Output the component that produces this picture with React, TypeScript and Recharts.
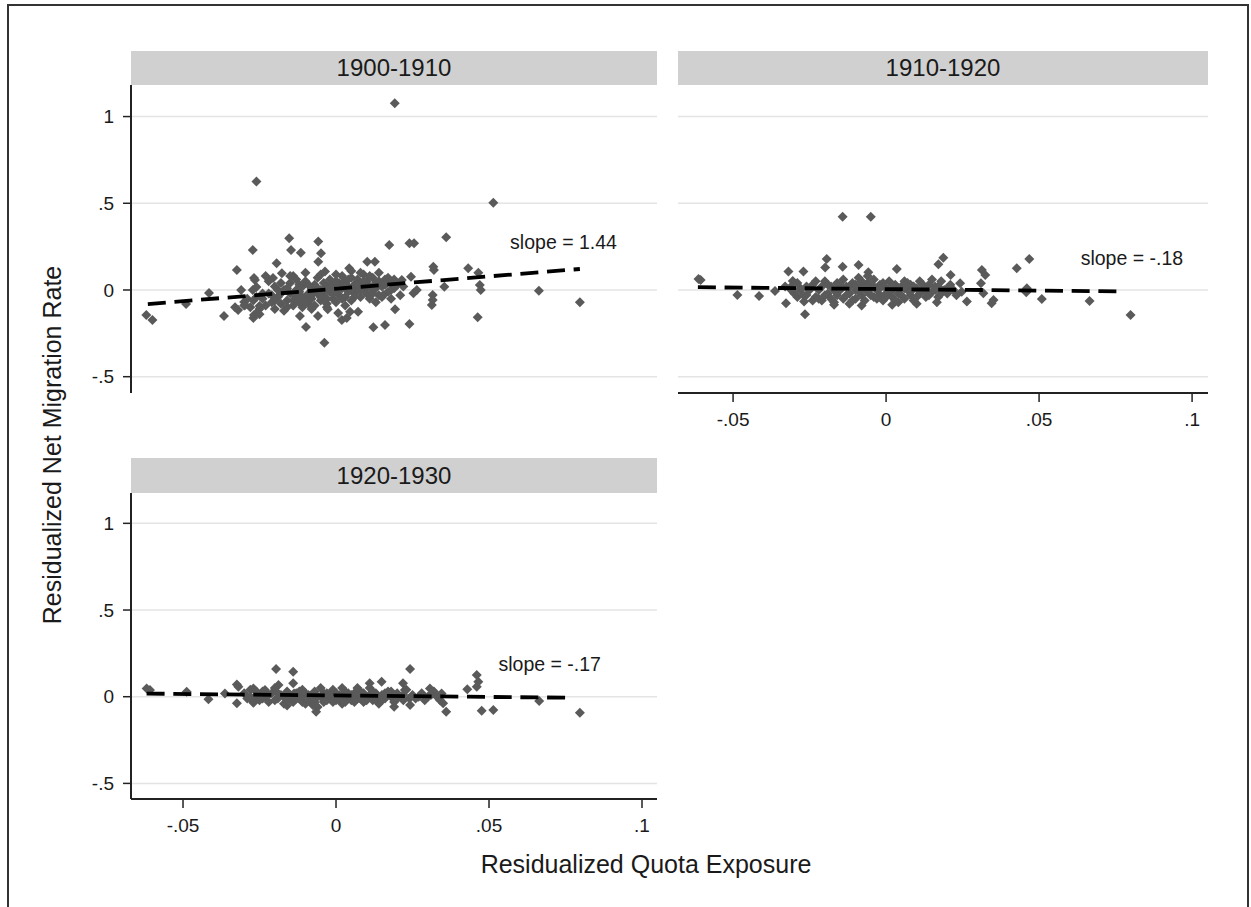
import React from 'react';
import { ScatterChart, Scatter, XAxis, YAxis, ReferenceLine } from 'recharts';

const FONT = '"Liberation Sans", Arial, Helvetica, sans-serif';

// panel titles
const decades = ['1900-1910', '1910-1920', '1920-1930'];
const slopeLabels = ['slope = 1.44', 'slope = -.18', 'slope = -.17'];

// tick labels
const xTicks = [-0.05, 0, 0.05, 0.1];
const yTicks = [-0.5, 0, 0.5, 1];

// 1900-1910: [quota exposure, net migration]
const pts1900: [number, number][] = [
  [-0.062, -0.144], [-0.06, -0.173], [-0.049, -0.081], [-0.0415, -0.017], [-0.0366, -0.15],
  [-0.0324, 0.115], [-0.032, -0.115], [-0.031, 0.0], [-0.03, -0.069], [-0.0297, -0.087], [-0.033, -0.1],
  [-0.0272, 0.231], [-0.0268, 0.069], [-0.026, 0.017], [-0.0268, -0.144], [-0.026, 0.625], [-0.027, -0.161],
  [-0.026, -0.133], [-0.0265, 0.058], [-0.025, -0.092], [-0.0272, 0.0],
  [-0.0206, 0.069], [-0.0194, 0.154], [-0.0177, 0.096], [-0.0153, 0.298], [-0.0147, 0.231], [-0.014, 0.081],
  [-0.0115, 0.215], [-0.0118, -0.15], [-0.0098, -0.213],
  [-0.0058, 0.279], [-0.0049, 0.212], [-0.0058, 0.163], [-0.0059, -0.15], [-0.0036, 0.106], [-0.0038, -0.304],
  [-0.0027, -0.111], [0.0007, -0.133], [0.0019, -0.173], [0.0035, -0.161], [0.0043, 0.125], [0.0046, -0.125],
  [0.0072, -0.125], [0.0102, 0.163], [0.0127, 0.163], [0.0122, -0.215], [0.0155, -0.029], [0.016, -0.202],
  [0.0174, 0.26], [0.0192, 1.077], [0.0193, -0.111],
  [0.0215, 0.058], [0.024, 0.269], [0.0255, 0.269], [0.024, -0.196], [0.0245, 0.077], [0.0253, -0.019], [0.0264, 0.0],
  [0.0318, 0.134], [0.032, 0.115], [0.0316, -0.029], [0.0316, -0.058], [0.0313, -0.087], [0.0354, 0.019], [0.036, 0.304],
  [0.0432, 0.125], [0.0465, 0.1], [0.047, 0.029], [0.0473, 0.0], [0.0463, -0.157], [0.0514, 0.503],
  [0.0663, -0.004], [0.0797, -0.071],
  // dense centre
  [-0.024, -0.05], [-0.023, -0.09], [-0.022, -0.02], [-0.021, -0.07], [-0.02, -0.11], [-0.02, 0.02],
  [-0.019, -0.04], [-0.018, -0.08], [-0.017, 0.0], [-0.017, -0.12], [-0.016, -0.06], [-0.015, -0.02],
  [-0.015, 0.04], [-0.014, -0.09], [-0.013, -0.04], [-0.013, 0.06], [-0.012, -0.01], [-0.012, -0.07],
  [-0.011, 0.02], [-0.011, -0.1], [-0.01, -0.04], [-0.01, 0.05], [-0.009, -0.02], [-0.009, -0.08],
  [-0.008, 0.01], [-0.008, -0.05], [-0.007, 0.03], [-0.007, -0.09], [-0.006, -0.02], [-0.006, 0.07],
  [-0.005, -0.06], [-0.005, 0.0], [-0.004, 0.04], [-0.004, -0.03], [-0.003, -0.08], [-0.003, 0.02],
  [-0.002, -0.01], [-0.002, 0.06], [-0.001, -0.05], [-0.001, 0.03], [0.0, 0.0], [0.0, -0.07],
  [0.001, 0.04], [0.001, -0.03], [0.002, 0.08], [0.002, 0.01], [0.003, -0.04], [0.003, 0.05],
  [0.004, -0.01], [0.004, 0.02], [0.005, -0.06], [0.005, 0.07], [0.006, 0.03], [0.006, -0.02],
  [0.007, 0.0], [0.007, 0.06], [0.008, -0.04], [0.008, 0.03], [0.009, 0.09], [0.009, 0.01],
  [0.01, -0.02], [0.01, 0.05], [0.011, 0.02], [0.011, -0.05], [0.012, 0.07], [0.012, 0.0],
  [0.013, 0.04], [0.014, -0.03], [0.014, 0.1], [0.015, 0.02], [0.016, 0.06], [0.017, -0.01],
  [0.018, 0.04], [0.019, 0.01], [-0.028, -0.1], [-0.029, -0.05], [-0.025, -0.14], [-0.03, -0.09], [-0.027, -0.06],
  [-0.022, 0.05], [-0.021, -0.03], [-0.019, 0.0], [-0.018, -0.02], [-0.016, -0.1], [-0.016, 0.01],
  [-0.014, -0.06], [-0.013, 0.0], [-0.012, 0.03], [-0.011, -0.04], [-0.01, -0.07], [-0.009, 0.03],
  [-0.008, -0.03], [-0.007, -0.01], [-0.006, 0.01], [-0.005, -0.04], [-0.004, 0.0], [-0.003, -0.05],
  [-0.002, 0.02], [-0.001, -0.02], [0.0, 0.05], [0.001, 0.0], [0.002, -0.05], [0.003, 0.02],
  [0.004, 0.06], [0.005, 0.0], [0.006, -0.04], [0.007, 0.03], [0.008, 0.0], [0.009, 0.05],
  [0.01, 0.02], [0.011, 0.08], [0.012, -0.02], [0.013, 0.01], [0.014, 0.05], [0.015, -0.04],
  [0.016, 0.03], [0.017, 0.07], [0.018, 0.0], [0.019, 0.06], [0.02, 0.03], [0.021, -0.03],
  [0.022, 0.02], [-0.024, -0.02], [-0.023, 0.08], [-0.02, -0.06], [-0.015, 0.08], [-0.01, 0.1],
  [-0.005, 0.09], [0.0, 0.09], [0.005, 0.11], [0.008, 0.1], [0.003, -0.09], [-0.008, -0.11],
  [-0.003, -0.1], [0.013, -0.07], [0.018, -0.05], [-0.018, 0.04], [-0.026, -0.04], [-0.025, -0.11],
];

// 1910-1920
const pts1910: [number, number][] = [
  [-0.0142, 0.423], [-0.005, 0.423],
  [-0.0613, 0.063], [-0.0606, 0.058], [-0.0486, -0.029], [-0.0415, -0.035], [-0.0363, -0.006],
  [-0.0319, 0.106], [-0.027, 0.106], [-0.0305, 0.052], [-0.0327, -0.077], [-0.0265, -0.14], [-0.0268, -0.067],
  [-0.026, -0.029], [-0.0194, 0.179], [-0.0199, 0.129], [-0.0142, 0.134], [-0.009, 0.144], [-0.0058, 0.102],
  [0.0035, 0.121], [0.0187, 0.186], [0.0171, 0.148], [0.0211, 0.087], [0.0242, 0.039], [0.0247, -0.01],
  [0.0264, -0.067], [0.0313, 0.115], [0.0324, 0.087], [0.031, 0.039], [0.0318, -0.019], [0.0351, -0.058],
  [0.0345, -0.077], [0.0427, 0.125], [0.0468, 0.179], [0.046, 0.01], [0.0458, -0.013], [0.0509, -0.052],
  [0.0665, -0.063], [0.0799, -0.144], [0.0166, -0.071],
  [-0.031, 0.02], [-0.029, -0.04], [-0.028, 0.0], [-0.03, -0.02],
  [-0.017, -0.085], [-0.008, -0.09], [0.002, -0.085], [0.01, -0.08],
  // dense centre
  [-0.024, 0.03], [-0.023, -0.04], [-0.022, 0.0], [-0.021, -0.06], [-0.02, 0.05], [-0.019, -0.02],
  [-0.018, 0.02], [-0.017, -0.07], [-0.016, 0.04], [-0.016, -0.03], [-0.015, 0.0], [-0.014, -0.05],
  [-0.014, 0.06], [-0.013, 0.02], [-0.012, -0.02], [-0.012, -0.08], [-0.011, 0.04], [-0.01, 0.0],
  [-0.01, -0.05], [-0.009, 0.07], [-0.008, -0.03], [-0.008, 0.02], [-0.007, -0.06], [-0.006, 0.04],
  [-0.006, -0.01], [-0.005, 0.01], [-0.004, -0.04], [-0.004, 0.06], [-0.003, 0.0], [-0.002, -0.03],
  [-0.002, 0.03], [-0.001, -0.06], [0.0, 0.01], [0.0, -0.02], [0.001, 0.05], [0.002, -0.04],
  [0.002, 0.0], [0.003, 0.03], [0.004, -0.07], [0.004, -0.02], [0.005, 0.02], [0.006, -0.05],
  [0.006, 0.05], [0.007, 0.0], [0.008, -0.03], [0.008, 0.03], [0.009, -0.06], [0.01, 0.01],
  [0.011, -0.02], [0.011, 0.05], [0.012, 0.0], [0.013, -0.04], [0.014, 0.03], [0.015, -0.01],
  [0.016, 0.02], [0.017, -0.04], [0.018, 0.05], [0.019, 0.0], [0.02, -0.02], [0.021, 0.03],
  [0.022, 0.0], [-0.028, 0.01], [-0.027, -0.03], [-0.029, 0.04], [-0.031, 0.0], [-0.033, 0.02],
  [-0.025, 0.0], [-0.024, -0.06], [-0.023, 0.05], [-0.021, 0.02], [-0.02, -0.03], [-0.019, 0.03],
  [-0.018, -0.05], [-0.017, 0.0], [-0.015, 0.03], [-0.013, -0.03], [-0.012, 0.02], [-0.011, -0.06],
  [-0.01, 0.03], [-0.009, -0.01], [-0.008, 0.05], [-0.007, 0.01], [-0.005, -0.03], [-0.004, 0.02],
  [-0.003, -0.05], [-0.002, 0.01], [-0.001, 0.04], [0.0, -0.04], [0.001, -0.01], [0.002, 0.03],
  [0.003, -0.06], [0.004, 0.01], [0.005, -0.03], [0.006, 0.01], [0.007, 0.04], [0.008, -0.01],
  [0.009, 0.02], [0.01, -0.04], [0.012, 0.03], [0.013, 0.0], [0.014, -0.03], [0.016, 0.0],
  [0.017, 0.02], [0.018, -0.02], [0.02, 0.01], [0.023, -0.03], [-0.026, 0.02], [-0.022, -0.05],
  [0.015, 0.06], [-0.006, 0.08],
];

// 1920-1930
const pts1920: [number, number][] = [
  [-0.0619, 0.048], [-0.0608, 0.039], [-0.0488, 0.029], [-0.0417, -0.015], [-0.0363, 0.019],
  [-0.0324, 0.071], [-0.0319, 0.058], [-0.0324, -0.038], [-0.027, 0.048], [-0.0265, -0.009], [-0.027, -0.035],
  [-0.0196, 0.16], [-0.014, 0.144], [-0.0232, 0.039], [-0.0188, 0.067], [-0.0185, 0.01], [-0.014, 0.077],
  [-0.0137, 0.019], [-0.0065, -0.087], [-0.0076, -0.048],
  [0.0242, 0.16], [0.0149, 0.087], [0.011, 0.077], [0.0219, 0.077], [0.0225, 0.039], [0.019, -0.058],
  [0.0242, -0.048], [0.0307, 0.048], [0.0315, 0.019], [0.0345, 0.019], [0.035, -0.038], [0.036, -0.087],
  [0.0429, 0.043], [0.046, 0.125], [0.0465, 0.087], [0.046, 0.058], [0.0476, -0.081], [0.0514, -0.077],
  [0.0664, -0.025], [0.0797, -0.092],
  // dense centre
  [-0.03, 0.02], [-0.029, -0.01], [-0.028, 0.04], [-0.027, -0.03], [-0.026, 0.01], [-0.025, -0.02],
  [-0.024, 0.03], [-0.023, 0.0], [-0.022, -0.03], [-0.021, 0.02], [-0.02, 0.05], [-0.019, -0.01],
  [-0.018, 0.01], [-0.017, -0.04], [-0.016, 0.03], [-0.015, 0.0], [-0.014, -0.03], [-0.013, 0.02],
  [-0.012, -0.01], [-0.011, 0.04], [-0.01, -0.04], [-0.009, 0.01], [-0.008, -0.02], [-0.007, 0.03],
  [-0.006, -0.06], [-0.006, 0.0], [-0.005, 0.05], [-0.004, -0.03], [-0.003, 0.02], [-0.002, -0.01],
  [-0.001, 0.04], [0.0, -0.02], [0.001, 0.01], [0.002, -0.04], [0.003, 0.03], [0.004, 0.0],
  [0.005, -0.02], [0.006, 0.02], [0.007, -0.01], [0.008, 0.03], [0.009, -0.03], [0.01, 0.0],
  [0.011, 0.05], [0.012, -0.02], [0.013, 0.02], [0.014, -0.04], [0.015, 0.01], [0.016, -0.01],
  [0.017, 0.03], [0.018, 0.0], [0.019, -0.03], [0.02, 0.02], [0.021, 0.0], [0.022, -0.02],
  [0.023, 0.04], [0.025, 0.01], [0.026, -0.01], [0.028, 0.02], [0.03, 0.0], [0.032, 0.03],
  [0.033, 0.0], [0.034, -0.02], [-0.007, -0.05], [-0.011, -0.03], [0.002, 0.05], [0.007, 0.05], [-0.016, -0.05],
  [-0.028, 0.0], [-0.026, 0.03], [-0.024, -0.01], [-0.022, 0.01], [-0.02, -0.02], [-0.019, 0.02],
  [-0.017, 0.0], [-0.016, -0.02], [-0.014, 0.01], [-0.013, -0.01], [-0.012, 0.03], [-0.011, 0.0],
  [-0.01, 0.02], [-0.009, -0.02], [-0.008, 0.01], [-0.007, -0.03], [-0.005, 0.0], [-0.004, 0.02],
  [-0.003, -0.02], [-0.002, 0.01], [-0.001, -0.03], [0.0, 0.02], [0.001, -0.01], [0.002, 0.0],
  [0.003, -0.03], [0.004, 0.02], [0.005, 0.01], [0.006, -0.03], [0.007, 0.01], [0.008, -0.01],
  [0.009, 0.02], [0.01, -0.02], [0.011, 0.01], [0.012, 0.03], [0.013, -0.01], [0.015, -0.02],
  [0.016, 0.02], [0.018, 0.03], [0.019, 0.01], [0.02, -0.01], [0.022, 0.01], [0.024, -0.01],
  [0.027, 0.0], [0.029, -0.02], [0.031, 0.01],
];

// fitted lines (end points)
const fit1900: [number, number][] = [[-0.0615, -0.081], [0.0797, 0.121]];
const fit1910: [number, number][] = [[-0.0615, 0.016], [0.0765, -0.008]];
const fit1920: [number, number][] = [[-0.0619, 0.018], [0.0775, -0.006]];

// where the slope text starts (left end of baseline)
const slopeAt: [number, number][] = [[0.0569, 0.236], [0.0636, 0.144], [0.0531, 0.148]];

const toXY = (arr: [number, number][]) => arr.map(([x, y]) => ({ x, y }));

const fmt = (v: number) =>
  v === 0 ? '0' : (v < 0 ? '-' : '') + String(Math.abs(v)).replace(/^0(?=\.)/, '');

const Diamond = (props: any) => {
  const { cx, cy } = props;
  if (cx == null || cy == null) return <g />;
  const r = 5;
  return <path d={`M${cx},${cy - r}L${cx + r},${cy}L${cx},${cy + r}L${cx - r},${cy}Z`} fill="#5a5a5a" />;
};

const Empty = () => <g />;

const tickStyle = { fontSize: 19, fill: '#1a1a1a', fontFamily: FONT };

interface PanelProps {
  pts: [number, number][];
  fit: [number, number][];
  label: string;
  labelAt: [number, number];
  showX: boolean;
  showY: boolean;
  plotW: number;
  plotH: number;
  xDom: [number, number];
  yDom: [number, number];
}

const Panel: React.FC<PanelProps> = ({ pts, fit, label, labelAt, showX, showY, plotW, plotH, xDom, yDom }) => {
  const yw = showY ? 60 : 0;
  const xh = showX ? 50 : 0;
  const TextShape = (p: any) => (
    <text x={p.cx} y={p.cy} fontSize={19.5} fontFamily={FONT} fill="#1a1a1a" textAnchor="start">
      {label}
    </text>
  );
  return (
    <ScatterChart width={yw + plotW} height={plotH + xh} margin={{ top: 0, right: 0, bottom: 0, left: 0 }}>
      <XAxis
        type="number"
        dataKey="x"
        domain={xDom}
        ticks={xTicks}
        interval={0}
        allowDataOverflow
        hide={!showX}
        height={50}
        tickFormatter={fmt}
        tick={tickStyle}
        tickSize={9}
        tickMargin={11}
        axisLine={{ stroke: '#222', strokeWidth: 2 }}
        tickLine={{ stroke: '#222', strokeWidth: 1.5 }}
      />
      <YAxis
        type="number"
        dataKey="y"
        domain={yDom}
        ticks={yTicks}
        interval={0}
        allowDataOverflow
        hide={!showY}
        width={60}
        tickFormatter={fmt}
        tick={tickStyle}
        tickSize={8}
        tickMargin={9}
        axisLine={{ stroke: '#222', strokeWidth: 2 }}
        tickLine={{ stroke: '#222', strokeWidth: 1.5 }}
      />
      {yTicks.map((t) => (
        <ReferenceLine key={t} y={t} stroke="#e4e4e4" strokeWidth={1.5} />
      ))}
      <Scatter data={toXY(pts)} shape={Diamond} isAnimationActive={false} />
      <Scatter
        data={toXY(fit)}
        shape={Empty}
        line={{ stroke: '#000', strokeWidth: 3.8, strokeDasharray: '18 8.7' }}
        isAnimationActive={false}
      />
      <Scatter data={toXY([labelAt])} shape={TextShape} isAnimationActive={false} />
    </ScatterChart>
  );
};

const headerStyle: React.CSSProperties = {
  position: 'absolute',
  background: '#d0d0d0',
  color: '#1a1a1a',
  fontFamily: FONT,
  fontSize: 24,
  display: 'flex',
  alignItems: 'center',
  justifyContent: 'center',
};

const App: React.FC = () => {
  return (
    <div
      style={{
        position: 'absolute',
        left: 0,
        top: 0,
        width: 1251,
        height: 907,
        overflow: 'hidden',
        background: '#fff',
        fontFamily: FONT,
      }}
    >
      <div
        style={{
          position: 'absolute',
          left: 7,
          top: 4,
          width: 1242,
          height: 910,
          border: '2px solid #333',
          boxSizing: 'border-box',
        }}
      />

      <div style={{ ...headerStyle, left: 131, top: 51, width: 526, height: 34 }}>{decades[0]}</div>
      <div style={{ ...headerStyle, left: 678, top: 51, width: 530, height: 34 }}>{decades[1]}</div>
      <div style={{ ...headerStyle, left: 131, top: 458, width: 526, height: 35 }}>{decades[2]}</div>

      <div style={{ position: 'absolute', left: 71, top: 85 }}>
        <Panel
          pts={pts1900}
          fit={fit1900}
          label={slopeLabels[0]}
          labelAt={slopeAt[0]}
          showX={false}
          showY={true}
          plotW={526}
          plotH={308}
          xDom={[-0.067, 0.1049]}
          yDom={[-0.594, 1.182]}
        />
      </div>
      <div style={{ position: 'absolute', left: 678, top: 85 }}>
        <Panel
          pts={pts1910}
          fit={fit1910}
          label={slopeLabels[1]}
          labelAt={slopeAt[1]}
          showX={true}
          showY={false}
          plotW={530}
          plotH={308}
          xDom={[-0.068, 0.1052]}
          yDom={[-0.594, 1.182]}
        />
      </div>
      <div style={{ position: 'absolute', left: 71, top: 493 }}>
        <Panel
          pts={pts1920}
          fit={fit1920}
          label={slopeLabels[2]}
          labelAt={slopeAt[2]}
          showX={true}
          showY={true}
          plotW={526}
          plotH={306}
          xDom={[-0.067, 0.1049]}
          yDom={[-0.59, 1.175]}
        />
      </div>

      <div
        style={{
          position: 'absolute',
          left: 52,
          top: 445,
          transform: 'translate(-50%, -50%) rotate(-90deg)',
          whiteSpace: 'nowrap',
          fontSize: 25,
          lineHeight: 1,
          color: '#1a1a1a',
        }}
      >
        Residualized Net Migration Rate
      </div>
      <div
        style={{
          position: 'absolute',
          left: 646,
          top: 864,
          transform: 'translate(-50%, -50%)',
          whiteSpace: 'nowrap',
          fontSize: 25,
          lineHeight: 1,
          color: '#1a1a1a',
        }}
      >
        Residualized Quota Exposure
      </div>
    </div>
  );
};

export default App;
